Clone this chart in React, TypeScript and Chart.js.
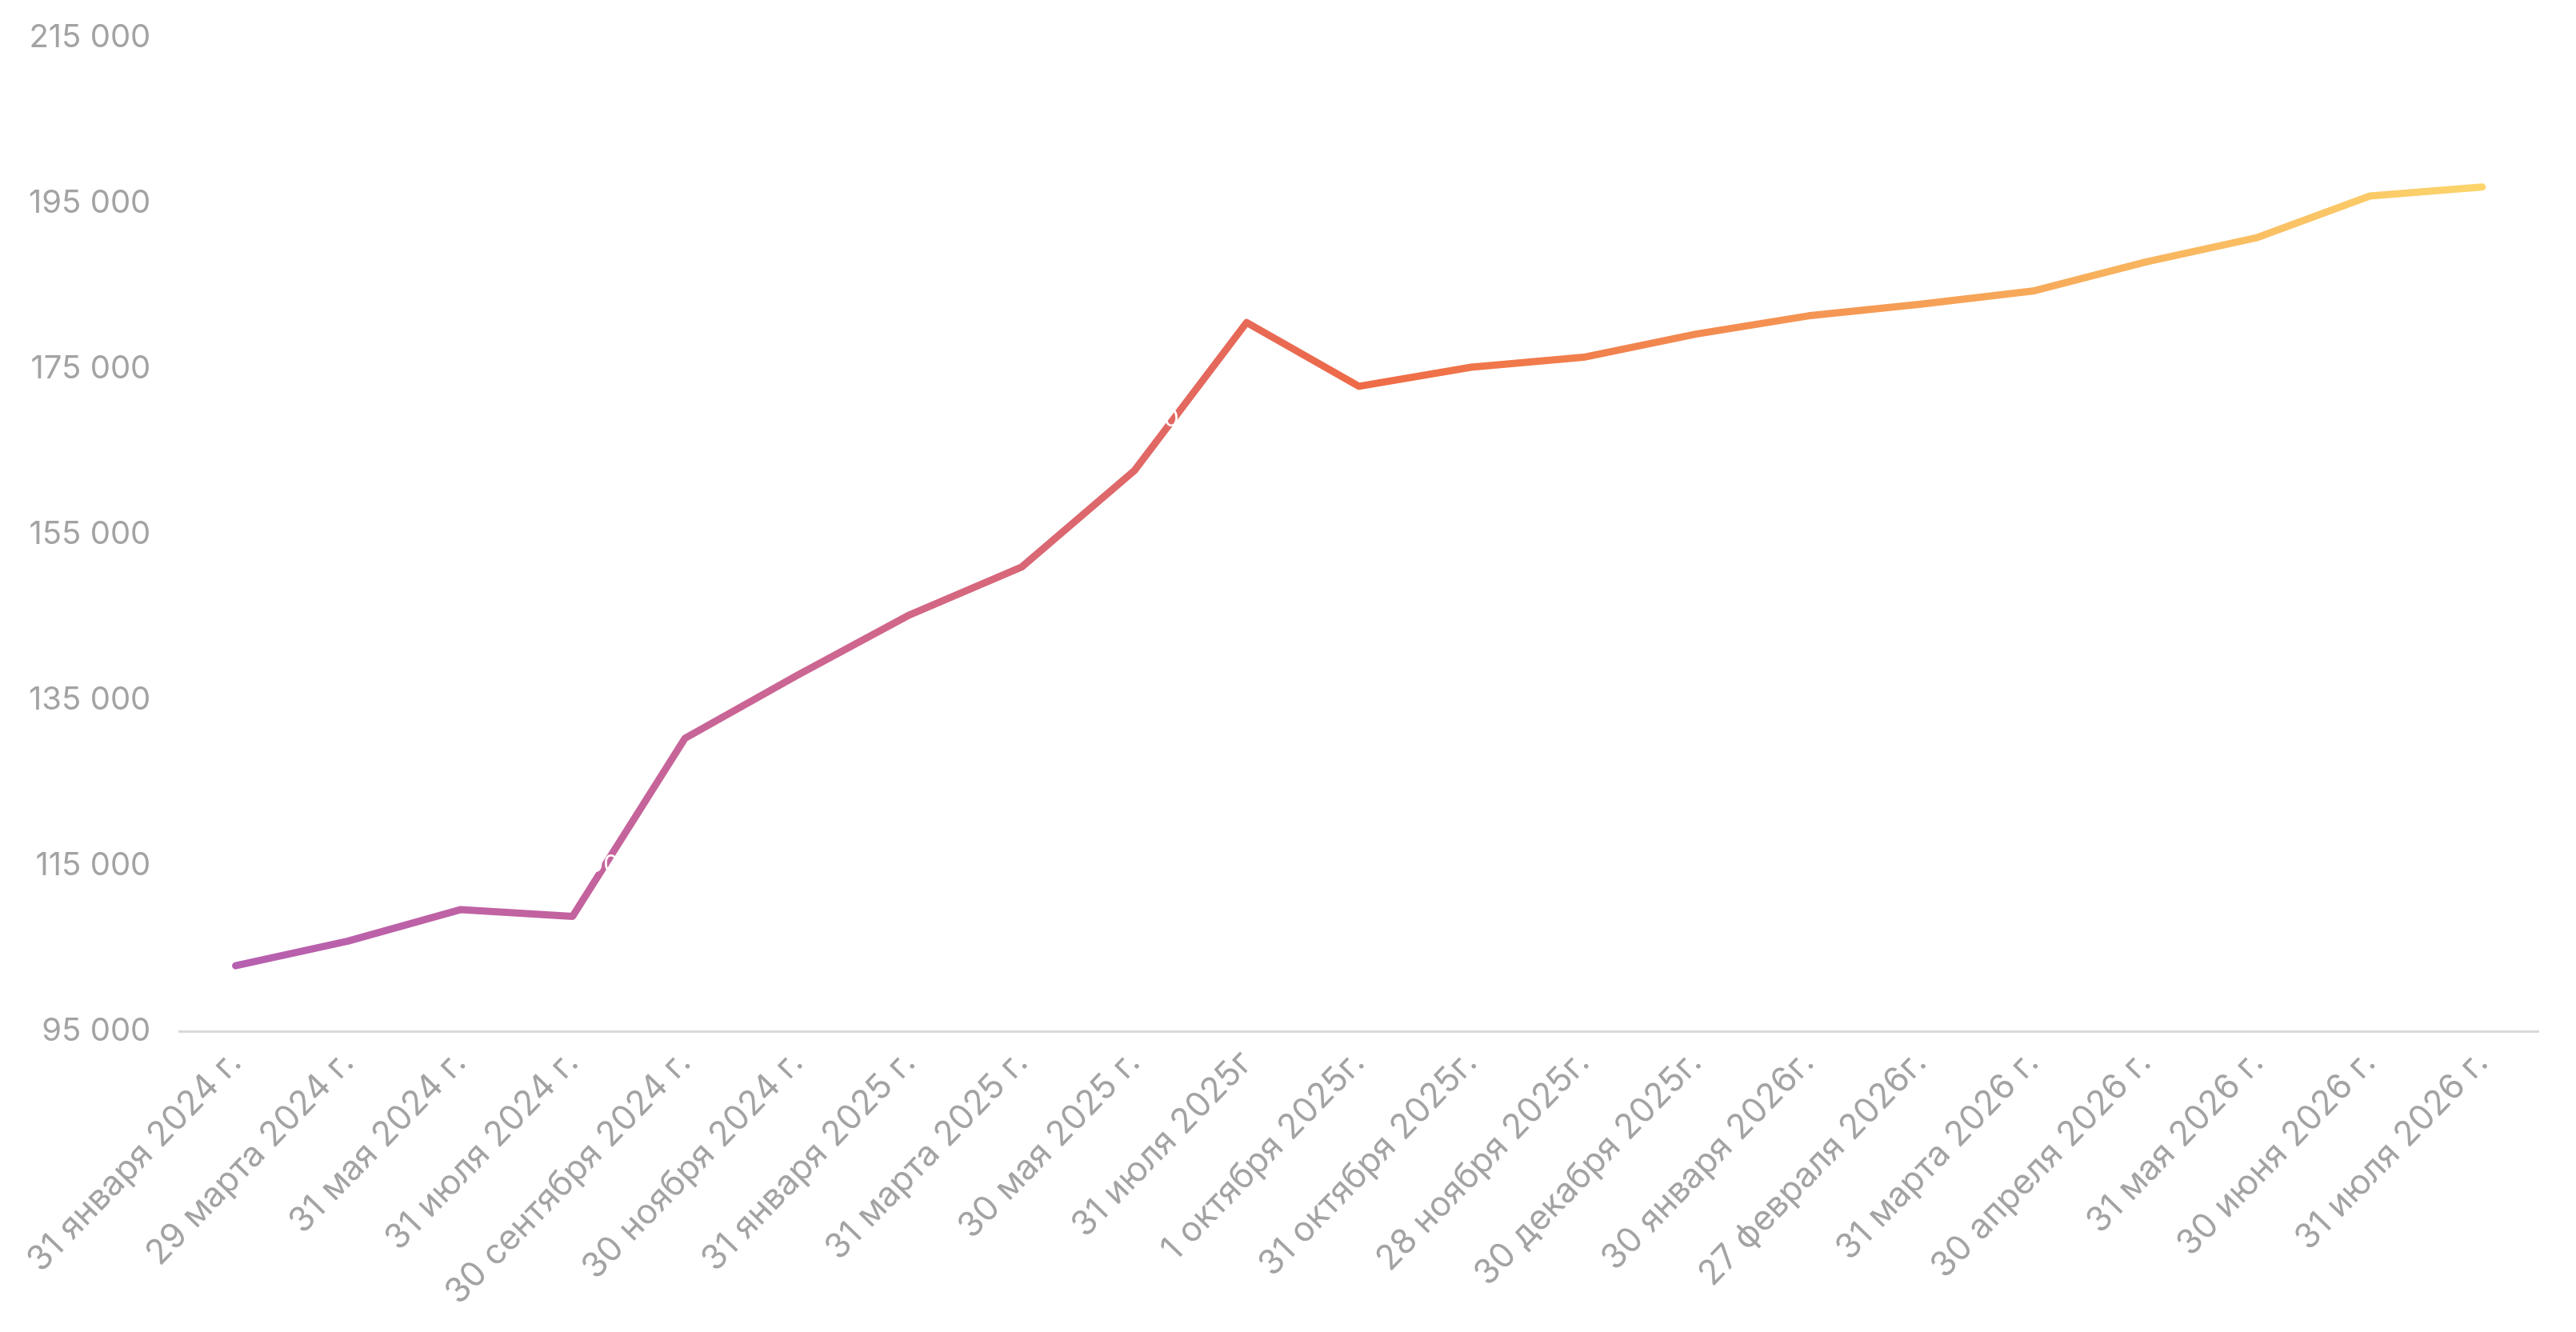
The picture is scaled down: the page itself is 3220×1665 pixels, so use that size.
import React, { useEffect, useRef } from "react";
import { Chart, registerables } from "chart.js";

Chart.register(...registerables);

const categories: string[] = [
  "31 января 2024 г.",
  "29 марта 2024 г.",
  "31 мая 2024 г.",
  "31 июля 2024 г.",
  "30 сентября 2024 г.",
  "30 ноября 2024 г.",
  "31 января 2025 г.",
  "31 марта 2025 г.",
  "30 мая 2025 г.",
  "31 июля 2025г",
  "1 октября 2025г.",
  "31 октября 2025г.",
  "28 ноября 2025г.",
  "30 декабря 2025г.",
  "30 января 2026г.",
  "27 февраля 2026г.",
  "31 марта 2026 г.",
  "30 апреля 2026 г.",
  "31 мая 2026 г.",
  "30 июня 2026 г.",
  "31 июля 2026 г.",
];

const values: number[] = [
  102930, 105900, 109700, 108900, 130400, 138000, 145300, 151100, 162700,
  180600, 172900, 175200, 176400, 179200, 181400, 182800, 184400, 187900,
  190870, 195865, 196950,
];

const yTicks: number[] = [95000, 115000, 135000, 155000, 175000, 195000, 215000];

const gradientStops: [number, string][] = [
  [0, "#b45fb3"],
  [0.28, "#cd6690"],
  [0.5, "#ee6a47"],
  [0.75, "#f6a257"],
  [1, "#fdda6e"],
];

const fmt = (v: number) =>
  String(Math.round(v)).replace(/\B(?=(\d{3})+(?!\d))/g, " ");

const FONT = "Inter, 'Noto Sans', sans-serif";

const whiteLabels = {
  id: "whiteLabels",
  afterDatasetsDraw(chart: any) {
    const ctx = chart.ctx;
    const meta = chart.getDatasetMeta(0);
    ctx.save();
    ctx.fillStyle = "#ffffff";
    ctx.font = `30px ${FONT}`;
    ctx.textAlign = "center";
    ctx.textBaseline = "middle";
    meta.data.forEach((pt: any, i: number) => {
      ctx.fillText(fmt(values[i]), pt.x, pt.y - 64);
    });
    ctx.restore();
  },
};

export default function App() {
  const ref = useRef<HTMLCanvasElement | null>(null);

  useEffect(() => {
    document.body.style.margin = "0";
    if (!ref.current) return;
    const chart = new Chart(ref.current, {
      type: "line",
      data: {
        labels: categories,
        datasets: [
          {
            data: values,
            borderWidth: 9,
            pointRadius: 0,
            pointHoverRadius: 0,
            tension: 0,
            borderCapStyle: "round",
            borderJoinStyle: "round",
            borderColor: (c: any) => {
              const { chart } = c;
              const area = chart.chartArea;
              if (!area) return gradientStops[0][1];
              const g = chart.ctx.createLinearGradient(area.left, 0, area.right, 0);
              gradientStops.forEach(([o, col]) => g.addColorStop(o, col));
              return g;
            },
          },
        ],
      },
      options: {
        animation: false,
        responsive: true,
        maintainAspectRatio: false,
        devicePixelRatio: 1,
        layout: { padding: { left: 0, right: 47, top: 47, bottom: 10 } },
        plugins: {
          legend: { display: false },
          tooltip: { enabled: false },
        },
        scales: {
          x: {
            offset: true,
            grid: { display: false, drawTicks: false },
            border: { display: true, color: "#d9d9d9", width: 3 },
            ticks: {
              autoSkip: false,
              maxRotation: 46,
              minRotation: 46,
              padding: 14,
              color: "#a3a3a3",
              font: { family: FONT, size: 43 },
            },
          },
          y: {
            min: 95000,
            max: 215000,
            afterBuildTicks: (axis: any) => {
              axis.ticks = yTicks.map((v) => ({ value: v }));
            },
            afterFit: (axis: any) => {
              axis.paddingTop = 0;
            },
            grid: { display: false, drawTicks: false },
            border: { display: false },
            ticks: {
              padding: 36,
              color: "#a3a3a3",
              font: { family: FONT, size: 40 },
              callback: (v: any) => fmt(Number(v)),
            },
          },
        },
      },
      plugins: [whiteLabels],
    });
    return () => chart.destroy();
  }, []);

  return (
    <div style={{ position: "fixed", left: 0, top: 0, width: "100vw", height: "100vh", background: "#fff" }}>
      <canvas ref={ref} />
    </div>
  );
}
